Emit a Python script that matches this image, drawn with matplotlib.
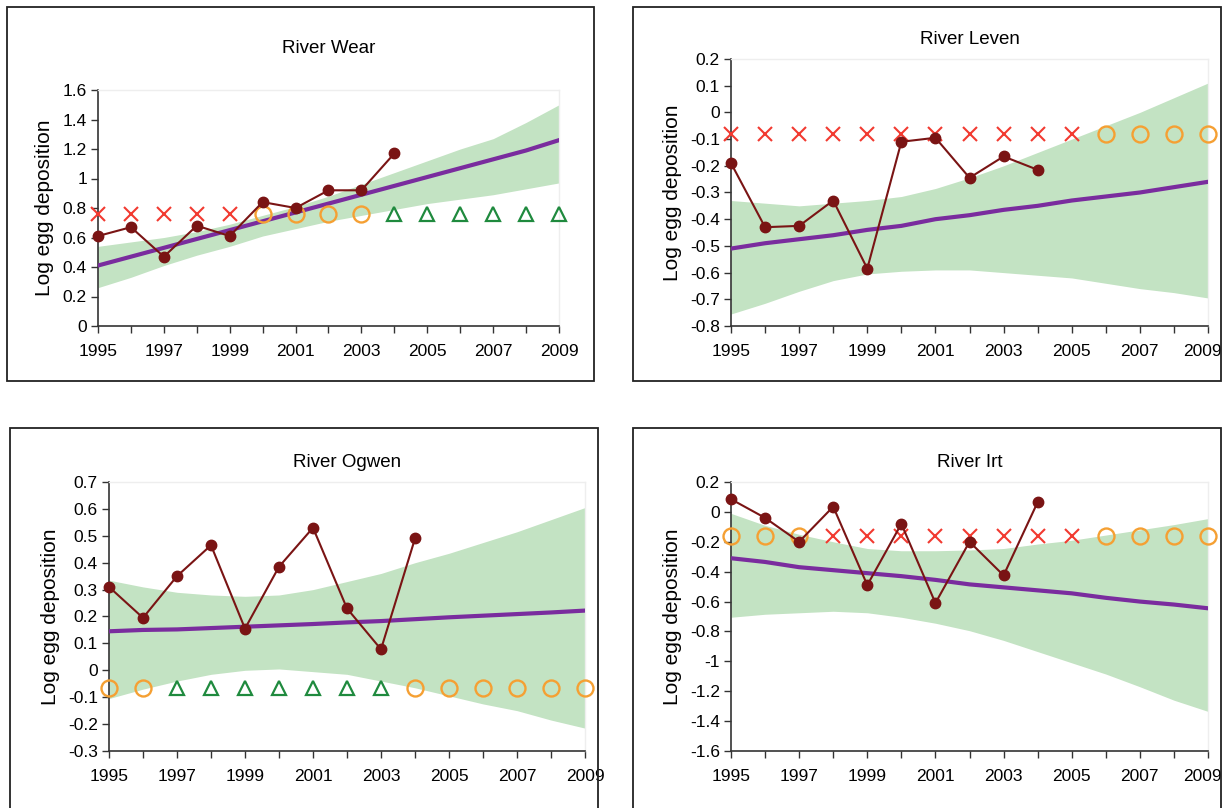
import matplotlib.pyplot as plt
import matplotlib.transforms as mtransforms
from matplotlib.patches import Rectangle
from matplotlib.ticker import MultipleLocator

plt.rcParams['font.family'] = ['Liberation Sans', 'DejaVu Sans']

YEARS = list(range(1995, 2010))
OBS_YEARS = list(range(1995, 2005))

# ── River Wear ───────────────────────────────────────────────────────────────
wear_obs   = [0.61, 0.67, 0.47, 0.68, 0.61, 0.84, 0.80, 0.92, 0.92, 1.17]
wear_trend = [0.41, 0.47, 0.53, 0.59, 0.65, 0.71, 0.77, 0.83, 0.89, 0.95, 1.01, 1.07, 1.13, 1.19, 1.26]
wear_lo    = [0.26, 0.33, 0.41, 0.48, 0.54, 0.61, 0.66, 0.71, 0.75, 0.79, 0.83, 0.86, 0.89, 0.93, 0.97]
wear_hi    = [0.54, 0.57, 0.60, 0.64, 0.69, 0.75, 0.81, 0.88, 0.96, 1.04, 1.12, 1.20, 1.27, 1.38, 1.50]
wear_status = ["x"] * 5 + ["o"] * 4 + ["^"] * 6
wear_level  = 0.76

# ── River Leven ──────────────────────────────────────────────────────────────
leven_obs   = [-0.19, -0.43, -0.425, -0.33, -0.585, -0.11, -0.095, -0.245, -0.165, -0.215]
leven_trend = [-0.51, -0.49, -0.475, -0.46, -0.44, -0.425, -0.40, -0.385, -0.365, -0.35,
               -0.33, -0.315, -0.30, -0.28, -0.26]
leven_lo    = [-0.755, -0.715, -0.67, -0.63, -0.605, -0.595, -0.59, -0.59, -0.60, -0.61,
               -0.62, -0.64, -0.66, -0.675, -0.695]
leven_hi    = [-0.33, -0.34, -0.35, -0.34, -0.33, -0.315, -0.285, -0.245, -0.20, -0.15,
               -0.10, -0.05, 0.0, 0.055, 0.11]
leven_status = ["x"] * 11 + ["o"] * 4
leven_level  = -0.08

# ── River Ogwen ──────────────────────────────────────────────────────────────
ogwen_obs   = [0.31, 0.195, 0.35, 0.465, 0.155, 0.385, 0.53, 0.23, 0.078, 0.49]
ogwen_trend = [0.145, 0.15, 0.152, 0.157, 0.162, 0.167, 0.172, 0.178, 0.183, 0.19,
               0.197, 0.203, 0.209, 0.215, 0.222]
ogwen_lo    = [-0.105, -0.07, -0.04, -0.015, 0.0, 0.005, -0.005, -0.015, -0.04, -0.065,
               -0.095, -0.125, -0.15, -0.185, -0.215]
ogwen_hi    = [0.335, 0.31, 0.29, 0.28, 0.275, 0.28, 0.30, 0.33, 0.36, 0.40,
               0.435, 0.475, 0.515, 0.56, 0.605]
ogwen_status = ["o"] * 2 + ["^"] * 7 + ["o"] * 6
ogwen_level  = -0.065

# ── River Irt ────────────────────────────────────────────────────────────────
irt_obs   = [0.085, -0.04, -0.2, 0.035, -0.49, -0.08, -0.61, -0.2, -0.425, 0.065]
irt_trend = [-0.31, -0.335, -0.37, -0.39, -0.41, -0.43, -0.455, -0.485, -0.505, -0.525,
             -0.545, -0.575, -0.60, -0.62, -0.645]
irt_lo    = [-0.705, -0.685, -0.675, -0.665, -0.675, -0.705, -0.745, -0.795, -0.86, -0.935,
             -1.01, -1.085, -1.17, -1.26, -1.335]
irt_hi    = [-0.01, -0.09, -0.15, -0.20, -0.245, -0.26, -0.26, -0.255, -0.245, -0.215,
             -0.19, -0.155, -0.12, -0.085, -0.045]
irt_status = ["o"] * 3 + ["x"] * 8 + ["o"] * 4
irt_level  = -0.16

C_OBS   = "#7a1414"
C_TREND = "#7a2c9e"
C_BAND  = "#c3e3c3"
C_X     = "#f23a30"
C_O     = "#f5a033"
C_TRI   = "#1f8a3e"

W, H = 1224, 808

def px_axes(l, r, b, t):
    return [l / W, 1 - b / H, (r - l) / W, (b - t) / H]

def px_box(fig, l, r, t, b):
    fig.add_artist(Rectangle((l / W, 1 - b / H), (r - l) / W, (b - t) / H,
                             transform=fig.transFigure, fill=False,
                             edgecolor="#222222", linewidth=1.3))

def panel(fig, rect, title, obs, trend, lo, hi, status, level, ylim, ystep, title_y,
          last_shift=0):
    ax = fig.add_axes(rect)
    ax.fill_between(YEARS, lo, hi, color=C_BAND, linewidth=0, zorder=1)
    ax.plot(YEARS, trend, color=C_TREND, linewidth=3, zorder=3)
    for yr, s in zip(YEARS, status):
        if s == "x":
            ax.plot(yr, level, marker="x", color=C_X, markersize=10, mew=1.5, zorder=4,
                    clip_on=False)
        elif s == "o":
            ax.plot(yr, level, marker="o", mfc="none", mec=C_O, markersize=11.5, mew=1.7,
                    zorder=4, clip_on=False)
        else:
            ax.plot(yr, level, marker="^", mfc="none", mec=C_TRI, markersize=10.5, mew=1.6,
                    zorder=4, clip_on=False)
    ax.plot(OBS_YEARS, obs, color=C_OBS, linewidth=1.5, marker="o", markersize=7.5,
            zorder=5, clip_on=False)
    ax.set_xlim(1995, 2009)
    ax.set_ylim(*ylim)
    ax.set_xticks(YEARS)
    ax.set_xticklabels([str(y) if (y - 1995) % 2 == 0 else "" for y in YEARS])
    ax.yaxis.set_major_locator(MultipleLocator(ystep))
    ax.yaxis.set_major_formatter(plt.FuncFormatter(lambda v, p: f"{v:g}" if abs(v) > 1e-9 else "0"))
    ax.tick_params(axis="both", direction="out", length=5, width=1, labelsize=12.5,
                   color="#333333")
    ax.tick_params(axis="x", pad=8)
    ax.tick_params(axis="y", pad=3)
    if last_shift:
        lab = ax.get_xticklabels()[-1]
        lab.set_transform(lab.get_transform() +
                          mtransforms.ScaledTranslation(last_shift / 100, 0, fig.dpi_scale_trans))
    for s in ["left", "bottom"]:
        ax.spines[s].set_color("#333333")
        ax.spines[s].set_linewidth(1.2)
    for s in ["top", "right"]:
        ax.spines[s].set_color("#eeeeee")
        ax.spines[s].set_linewidth(1)
    ax.set_ylabel("Log egg deposition", fontsize=15, labelpad=6)
    ax.set_title(title, fontsize=13.5, y=title_y)
    return ax

fig = plt.figure(figsize=(12.24, 8.08), dpi=100)

px_box(fig, 7, 594, 7, 381)
px_box(fig, 633, 1221, 7, 381)
px_box(fig, 10, 598, 428, 830)
px_box(fig, 633, 1221, 428, 830)

panel(fig, px_axes(98, 559, 326, 90), "River Wear", wear_obs, wear_trend, wear_lo, wear_hi,
      wear_status, wear_level, (0, 1.6), 0.2, 1.12)
panel(fig, px_axes(731, 1208, 326, 59), "River Leven", leven_obs, leven_trend, leven_lo, leven_hi,
      leven_status, leven_level, (-0.8, 0.2), 0.1, 1.025, last_shift=-6)
panel(fig, px_axes(109, 585, 751, 482), "River Ogwen", ogwen_obs, ogwen_trend, ogwen_lo, ogwen_hi,
      ogwen_status, ogwen_level, (-0.3, 0.7), 0.1, 1.025)
panel(fig, px_axes(731, 1208, 751, 482), "River Irt", irt_obs, irt_trend, irt_lo, irt_hi,
      irt_status, irt_level, (-1.6, 0.2), 0.2, 1.025, last_shift=-6)

fig.savefig("out.png", dpi=100)
